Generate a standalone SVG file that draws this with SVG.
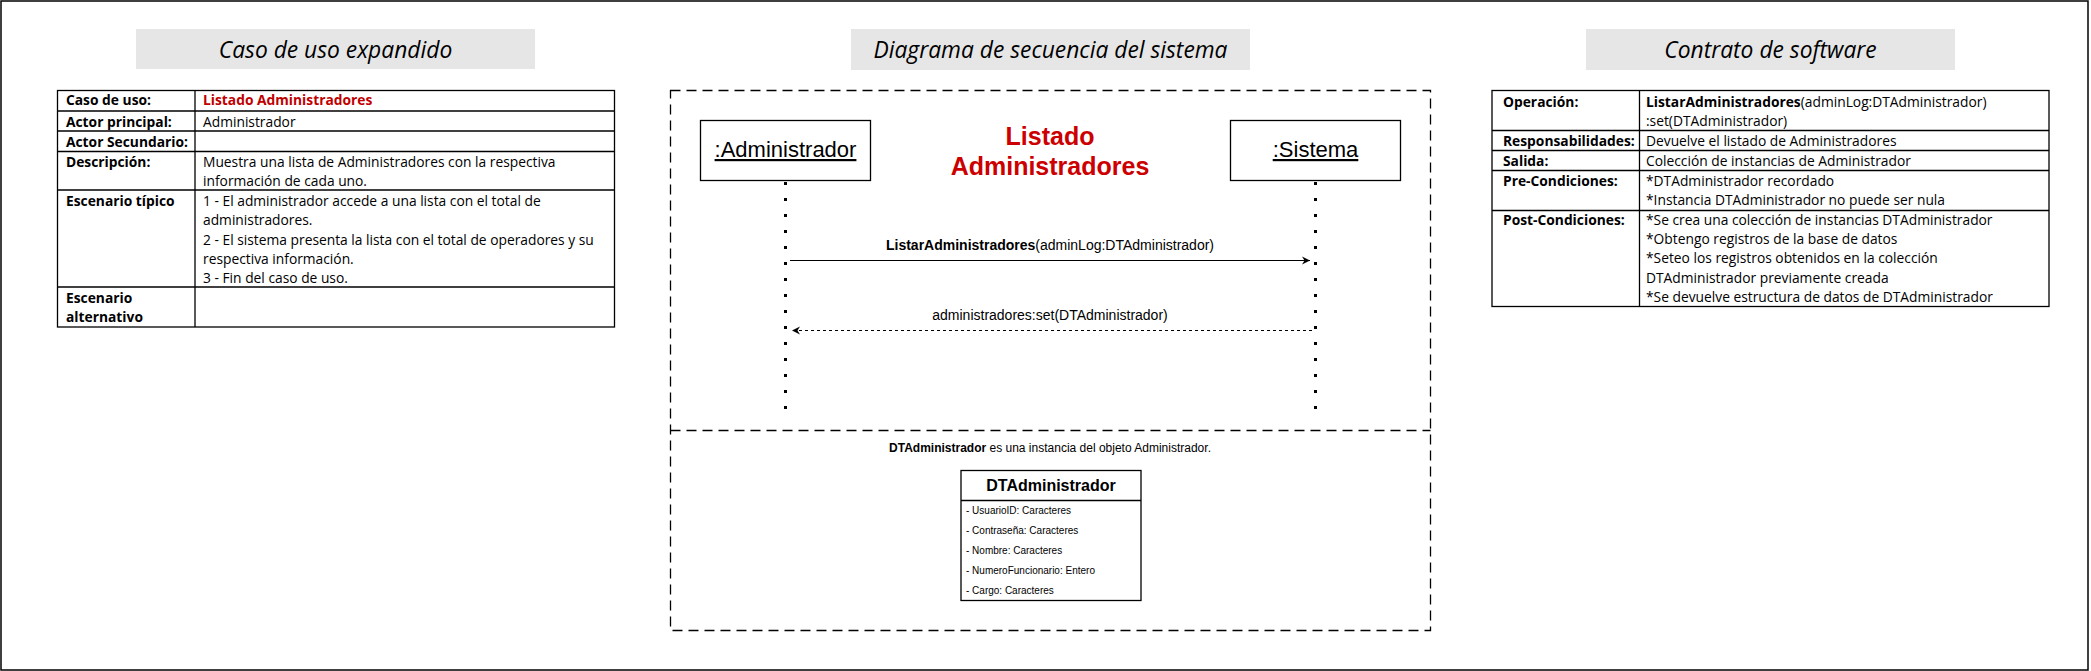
<svg xmlns="http://www.w3.org/2000/svg" width="2091" height="671" viewBox="0 0 2091 671">
<defs>
<style>
.frame{fill:#fff;stroke:#000;stroke-width:1.5}
.ttl{fill:#e6e6e6;stroke:none}
.ttlt{font-family:"Open Sans","Liberation Sans",sans-serif;font-style:italic;font-size:22.8px;fill:#000;text-anchor:middle}
.tbl{fill:#fff;stroke:#000;stroke-width:1.3}
.ln{stroke:#000;stroke-width:1.3}
.c{font-family:"Open Sans","Liberation Sans",sans-serif;font-size:13.8px;fill:#000}
.b{font-weight:bold}
.red{fill:#c00000}
.h{font-family:"Liberation Sans",Arial,sans-serif;fill:#000}
.dash{fill:none;stroke:#000;stroke-width:1.3;stroke-dasharray:10 6}
.actor{fill:#fff;stroke:#000;stroke-width:1.3}
.life{stroke:#000;stroke-width:3;stroke-dasharray:3 13}
.msg{stroke:#000;stroke-width:1.2;fill:none}
.ret{stroke-dasharray:3 3}
</style>
<marker id="arr" markerWidth="10" markerHeight="10" refX="9" refY="5" orient="auto" markerUnits="userSpaceOnUse">
<path d="M1,1 L9,5 L1,9 L3.5,5 z" fill="#000"/>
</marker>
</defs>
<rect class="frame" x="1" y="1" width="2087" height="669"/>

<g id="title-caso">
<rect class="ttl" x="136" y="29" width="399" height="40"/>
<text class="ttlt" x="335.5" y="57.5">Caso de uso expandido</text>
</g>
<g id="title-secuencia">
<rect class="ttl" x="851" y="29" width="399" height="41"/>
<text class="ttlt" x="1050.5" y="58">Diagrama de secuencia del sistema</text>
</g>
<g id="title-contrato">
<rect class="ttl" x="1586" y="29" width="369" height="41"/>
<text class="ttlt" x="1770.5" y="58">Contrato de software</text>
</g>

<g id="tabla-caso-uso">
<rect class="tbl" x="57.5" y="90.5" width="557" height="236.5"/>
<line class="ln" x1="195" y1="90.5" x2="195" y2="327"/>
<line class="ln" x1="57.5" y1="111" x2="614.5" y2="111"/>
<line class="ln" x1="57.5" y1="131" x2="614.5" y2="131"/>
<line class="ln" x1="57.5" y1="151.5" x2="614.5" y2="151.5"/>
<line class="ln" x1="57.5" y1="190" x2="614.5" y2="190"/>
<line class="ln" x1="57.5" y1="287" x2="614.5" y2="287"/>
<text class="c b" x="66" y="105.3">Caso de uso:</text>
<text class="c b red" x="203" y="105.3">Listado Administradores</text>
<text class="c b" x="66" y="127">Actor principal:</text>
<text class="c" x="203" y="127">Administrador</text>
<text class="c b" x="66" y="147">Actor Secundario:</text>
<text class="c b" x="66" y="166.7">Descripción:</text>
<text class="c" x="203" y="166.7">Muestra una lista de Administradores con la respectiva</text>
<text class="c" x="203" y="185.7">información de cada uno.</text>
<text class="c b" x="66" y="205.7">Escenario típico</text>
<text class="c" x="203" y="205.7">1 - El administrador accede a una lista con el total de</text>
<text class="c" x="203" y="225">administradores.</text>
<text class="c" x="203" y="244.5">2 - El sistema presenta la lista con el total de operadores y su</text>
<text class="c" x="203" y="263.7">respectiva información.</text>
<text class="c" x="203" y="282.7">3 - Fin del caso de uso.</text>
<text class="c b" x="66" y="302.7">Escenario</text>
<text class="c b" x="66" y="321.7">alternativo</text>
</g>

<g id="marco-secuencia">
<rect class="dash" x="670.5" y="90.5" width="760" height="540"/>
<line class="dash" x1="670.5" y1="430.5" x2="1430.5" y2="430.5"/>
</g>

<g id="titulo-rojo">
<text class="h b" x="1050" y="145" font-size="25" text-anchor="middle" style="fill:#cc0000">Listado</text>
<text class="h b" x="1050" y="175" font-size="25" text-anchor="middle" style="fill:#cc0000">Administradores</text>
</g>

<g id="actor-administrador">
<rect class="actor" x="700.5" y="120.5" width="170" height="60"/>
<text class="h" x="785.5" y="157" font-size="22" text-anchor="middle" text-decoration="underline">:Administrador</text>
<line class="life" x1="785.5" y1="182" x2="785.5" y2="410"/>
</g>

<g id="actor-sistema">
<rect class="actor" x="1230.5" y="120.5" width="170" height="60"/>
<text class="h" x="1315.5" y="157" font-size="22" text-anchor="middle" text-decoration="underline">:Sistema</text>
<line class="life" x1="1315.5" y1="182" x2="1315.5" y2="410"/>
</g>

<g id="conectores">
<line class="msg" x1="790" y1="260.5" x2="1310" y2="260.5" marker-end="url(#arr)"/>
<text class="h" x="1050" y="250" font-size="14" text-anchor="middle"><tspan font-weight="bold">ListarAdministradores</tspan>(adminLog:DTAdministrador)</text>
<line class="msg ret" x1="1312" y1="330.5" x2="792" y2="330.5" marker-end="url(#arr)"/>
<text class="h" x="1050" y="319.5" font-size="14" text-anchor="middle">administradores:set(DTAdministrador)</text>
</g>

<g id="nota-dt">
<text class="h" x="1050" y="452" font-size="12" text-anchor="middle"><tspan font-weight="bold">DTAdministrador</tspan> es una instancia del objeto Administrador.</text>
</g>

<g id="clase-dtadministrador">
<rect class="actor" x="961" y="470.5" width="180" height="130"/>
<line class="ln" x1="961" y1="500.5" x2="1141" y2="500.5"/>
<text class="h" x="1051" y="491" font-size="16" font-weight="bold" text-anchor="middle">DTAdministrador</text>
<text class="h" x="966" y="513.5" font-size="10">- UsuarioID: Caracteres</text>
<text class="h" x="966" y="533.5" font-size="10">- Contraseña: Caracteres</text>
<text class="h" x="966" y="553.5" font-size="10">- Nombre: Caracteres</text>
<text class="h" x="966" y="573.5" font-size="10">- NumeroFuncionario: Entero</text>
<text class="h" x="966" y="593.5" font-size="10">- Cargo: Caracteres</text>
</g>

<g id="tabla-contrato">
<rect class="tbl" x="1492" y="90.5" width="557" height="216"/>
<line class="ln" x1="1639.5" y1="90.5" x2="1639.5" y2="306.5"/>
<line class="ln" x1="1492" y1="130.5" x2="2049" y2="130.5"/>
<line class="ln" x1="1492" y1="150.5" x2="2049" y2="150.5"/>
<line class="ln" x1="1492" y1="170.5" x2="2049" y2="170.5"/>
<line class="ln" x1="1492" y1="210.5" x2="2049" y2="210.5"/>
<text class="c b" x="1503" y="106.5">Operación:</text>
<text class="c" x="1646" y="106.5"><tspan font-weight="bold">ListarAdministradores</tspan>(adminLog:DTAdministrador)</text>
<text class="c" x="1646" y="125.7">:set(DTAdministrador)</text>
<text class="c b" x="1503" y="145.7">Responsabilidades:</text>
<text class="c" x="1646" y="145.7">Devuelve el listado de Administradores</text>
<text class="c b" x="1503" y="165.7">Salida:</text>
<text class="c" x="1646" y="165.7">Colección de instancias de Administrador</text>
<text class="c b" x="1503" y="185.7">Pre-Condiciones:</text>
<text class="c" x="1646" y="185.7">*DTAdministrador recordado</text>
<text class="c" x="1646" y="205">*Instancia DTAdministrador no puede ser nula</text>
<text class="c b" x="1503" y="225">Post-Condiciones:</text>
<text class="c" x="1646" y="225">*Se crea una colección de instancias DTAdministrador</text>
<text class="c" x="1646" y="244.2">*Obtengo registros de la base de datos</text>
<text class="c" x="1646" y="263.4">*Seteo los registros obtenidos en la colección</text>
<text class="c" x="1646" y="282.6">DTAdministrador previamente creada</text>
<text class="c" x="1646" y="301.8">*Se devuelve estructura de datos de DTAdministrador</text>
</g>
</svg>
